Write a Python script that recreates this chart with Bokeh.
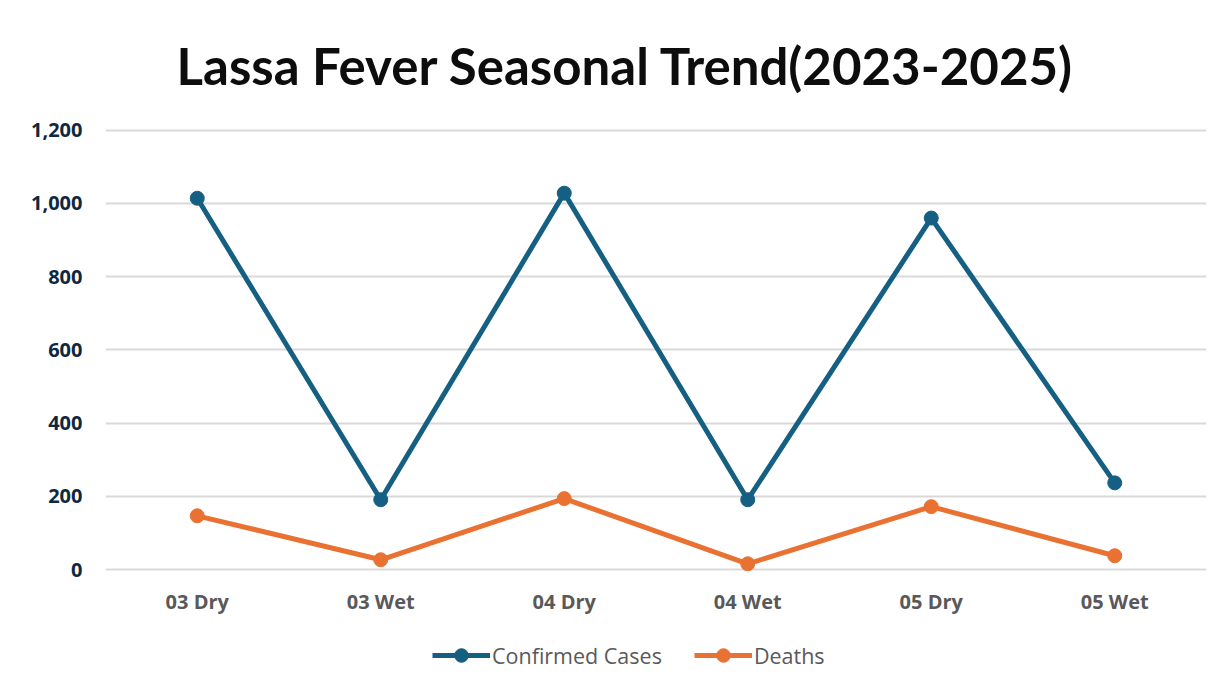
from bokeh.plotting import figure
from bokeh.models import Range1d, NumeralTickFormatter, Legend, LegendItem, FixedTicker, ColumnDataSource
from bokeh.layouts import column
from bokeh.embed import file_html
from bokeh.resources import INLINE

categories = ["03 Dry", "03 Wet", "04 Dry", "04 Wet", "05 Dry", "05 Wet"]
confirmed_cases = [1014, 191, 1028, 191, 960, 237]
deaths = [147, 27, 194, 16, 172, 38]
y_ticks = [0, 200, 400, 600, 800, 1000, 1200]
series_names = ["Confirmed Cases", "Deaths"]

BLUE = "#156082"
ORANGE = "#E97132"

src = ColumnDataSource(dict(cat=categories, cases=confirmed_cases, deaths=deaths))

p = figure(width=1222, height=630, frame_width=1101, frame_height=445,
           x_range=categories, y_range=Range1d(-5, 1210),
           output_backend="svg", toolbar_location=None,
           min_border_left=105, min_border_right=16, min_border_top=126, min_border_bottom=59)
p.outline_line_color = None
p.background_fill_color = "white"
p.border_fill_color = "white"

p.title.text = "Lassa Fever Seasonal Trend(2023-2025)"
p.title.align = "left"
p.title.text_font = "Lato"
p.title.text_font_style = "bold"
p.title.text_font_size = "51px"
p.title.text_color = "#0d0d0d"
p.title.offset = 71
p.title.standoff = 62

l1 = p.line("cat", "cases", source=src, line_color=BLUE, line_width=5)
s1 = p.scatter("cat", "cases", source=src, size=14, fill_color=BLUE, line_color=BLUE)
l2 = p.line("cat", "deaths", source=src, line_color=ORANGE, line_width=5)
s2 = p.scatter("cat", "deaths", source=src, size=14, fill_color=ORANGE, line_color=ORANGE)

p.xgrid.grid_line_color = None
p.ygrid.grid_line_color = "#d9d9d9"
p.ygrid.grid_line_width = 2

p.yaxis.ticker = FixedTicker(ticks=y_ticks)
p.yaxis.formatter = NumeralTickFormatter(format="0,0")
for ax in (p.xaxis[0], p.yaxis[0]):
    ax.axis_line_color = None
    ax.major_tick_line_color = None
    ax.minor_tick_line_color = None
    ax.major_label_text_font = "Open Sans"
    ax.major_label_text_font_style = "bold"
    ax.major_label_text_font_size = "20px"
p.yaxis.major_label_text_color = "#0E2841"
p.xaxis.major_label_text_color = "#595959"
p.yaxis.major_label_standoff = 17
p.xaxis.major_label_standoff = 10

# legend strip (a separate figure so the legend is not clipped by the main frame)
lg = figure(width=1222, height=50, x_range=Range1d(0, 1), y_range=Range1d(0, 1),
            output_backend="svg", toolbar_location=None,
            x_axis_location=None, y_axis_location=None,
            min_border_left=0, min_border_right=0, min_border_top=0, min_border_bottom=0)
lg.outline_line_color = None
lg.grid.grid_line_color = None
lg.border_fill_color = "white"
# off-screen stand-in renderers that only carry the legend styles
proxy = ColumnDataSource(dict(x=[-10, -9], y=[-10, -10]))
d1 = lg.line("x", "y", source=proxy, line_color=BLUE, line_width=5)
d1s = lg.scatter("x", "y", source=proxy, size=14, fill_color=BLUE, line_color=BLUE)
d2 = lg.line("x", "y", source=proxy, line_color=ORANGE, line_width=5)
d2s = lg.scatter("x", "y", source=proxy, size=14, fill_color=ORANGE, line_color=ORANGE)

legend = Legend(items=[LegendItem(label=series_names[0], renderers=[d1, d1s]),
                       LegendItem(label=series_names[1], renderers=[d2, d2s])],
                orientation="horizontal", location=(327, 8),
                label_text_font="Open Sans", label_text_font_size="21.5px",
                label_text_color="#595959", glyph_width=58, glyph_height=34,
                spacing=32, label_standoff=2, border_line_color=None,
                background_fill_alpha=0, margin=0, padding=0)
lg.add_layout(legend, "center")

layout = column(p, lg, spacing=0)
open("out.html", "w").write(file_html(layout, INLINE))
